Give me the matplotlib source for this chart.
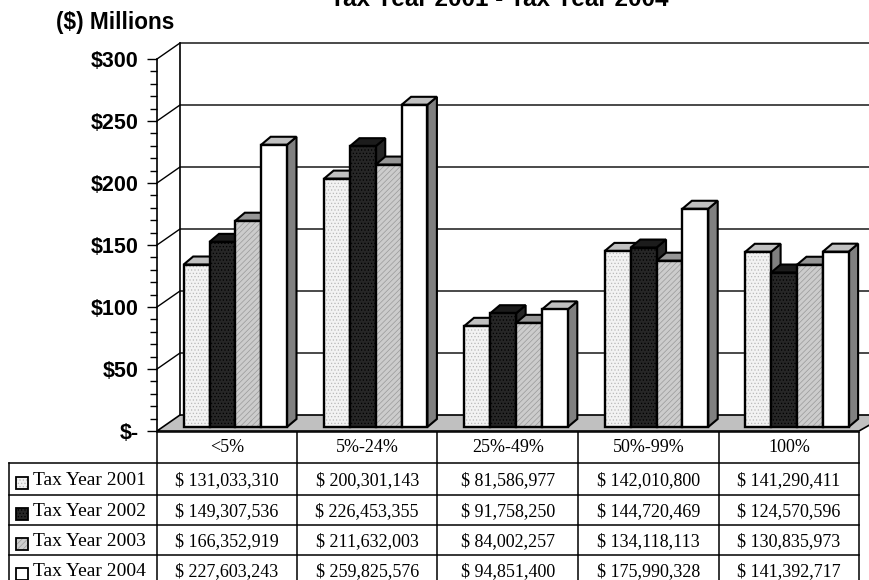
import matplotlib
matplotlib.use('Agg')
import matplotlib.pyplot as plt
from matplotlib.patches import Polygon, Rectangle
from matplotlib.ticker import MultipleLocator, FuncFormatter

plt.rcParams['hatch.linewidth'] = 0.5

categories = ['<5%', '5%-24%', '25%-49%', '50%-99%', '100%']
series_names = ['Tax Year 2001', 'Tax Year 2002', 'Tax Year 2003', 'Tax Year 2004']

tax_2001 = [131033310, 200301143, 81586977, 142010800, 141290411]
tax_2002 = [149307536, 226453355, 91758250, 144720469, 124570596]
tax_2003 = [166352919, 211632003, 84002257, 134118113, 130835973]
tax_2004 = [227603243, 259825576, 94851400, 175990328, 141392717]
all_series = [tax_2001, tax_2002, tax_2003, tax_2004]

# face, hatch, hatch colour, top face, side face
bar_styles = [
    ('#f2f2f2', '.....', '#b8b8b8', '#c0c0c0', '#808080'),
    ('#262626', '.....', '#000000', '#1c1c1c', '#262626'),
    ('#cccccc', '//////', '#999999', '#969696', '#808080'),
    ('#ffffff', None, None, '#c0c0c0', '#808080'),
]

W, H = 870, 580
LEFT, RIGHT = 157, 859
BASE, TOP = 431, 59

fig = plt.figure(figsize=(W / 100, H / 100), dpi=100)
ax = fig.add_axes([LEFT / W, 1 - BASE / H, (RIGHT - LEFT) / W, (BASE - TOP) / H])
ax.set_xlim(0, 5)
ax.set_ylim(0, 300)
ax.patch.set_alpha(0)

# one pixel in data units
px = 5 / (RIGHT - LEFT)
py = 300 / (BASE - TOP)

# 3d box: back wall, side wall and floor
wall_dx, wall_dy = 23 * px, 16 * py
edge = dict(edgecolor='black', linewidth=1.2, clip_on=False)
xmax = 5.2
ax.add_patch(Polygon([(0, 0), (wall_dx, wall_dy), (xmax, wall_dy), (5, 0)],
                     facecolor='#c0c0c0', zorder=1, **edge))
ax.plot([wall_dx, wall_dx], [wall_dy, 300 + wall_dy], color='black', lw=1.2, clip_on=False, zorder=1)
ax.plot([0, 0], [0, 300], color='black', lw=1.2, clip_on=False, zorder=1)
for tick in range(50, 301, 50):
    ax.plot([0, wall_dx, xmax], [tick, tick + wall_dy, tick + wall_dy],
            color='black', lw=1, clip_on=False, zorder=0.5)

# bars, left to right so each one covers the side of the previous one
bar_w = 0.184
start = 0.19
depth_x, depth_y = 9.5 * px, 8 * py
lift = 4 * py
for c in range(len(categories)):
    for s, values in enumerate(all_series):
        v = values[c] / 1e6
        x0 = c + start + s * bar_w
        x1 = x0 + bar_w
        face, hatch, hatch_col, top_col, side_col = bar_styles[s]
        z = 2 + c + s * 0.1
        ax.add_patch(Polygon([(x1, lift), (x1 + depth_x, lift + depth_y),
                              (x1 + depth_x, v + lift + depth_y), (x1, v + lift)],
                             facecolor=side_col, edgecolor='black', lw=1.5, zorder=z, clip_on=False))
        ax.add_patch(Polygon([(x0, v + lift), (x0 + depth_x, v + lift + depth_y),
                              (x1 + depth_x, v + lift + depth_y), (x1, v + lift)],
                             facecolor=top_col, edgecolor='black', lw=1.5, zorder=z, clip_on=False))
        ax.bar(x0, v, bar_w, bottom=lift, align='edge', color=face, hatch=hatch,
               edgecolor=hatch_col if hatch else 'black', linewidth=0, zorder=z, clip_on=False)
        ax.bar(x0, v, bar_w, bottom=lift, align='edge', fill=False,
               edgecolor='black', linewidth=1.7, zorder=z, clip_on=False)

for side in ['top', 'right', 'bottom', 'left']:
    ax.spines[side].set_visible(False)
ax.set_xticks([])
ax.yaxis.set_major_locator(MultipleLocator(50))
ax.yaxis.set_minor_locator(MultipleLocator(10))
ax.yaxis.set_major_formatter(FuncFormatter(lambda v, pos: '$-' if v == 0 else f'${v:.0f}'))
ax.tick_params(axis='y', which='major', length=7, width=1, pad=6)
ax.tick_params(axis='y', which='minor', length=5, width=1)
for lab in ax.get_yticklabels():
    lab.set_family('Liberation Sans')
    lab.set_fontweight('bold')
    lab.set_fontsize(15.5)

# table and labels drawn in pixel space on a full figure overlay
pg = fig.add_axes([0, 0, 1, 1])
pg.set_xlim(0, W)
pg.set_ylim(H, 0)
pg.axis('off')
pg.patch.set_alpha(0)

cols = [157, 297, 437.5, 578.5, 719, 859]
rows = [431.5, 463, 495, 525, 555, 585]
TABLE_LEFT = 9
for x in cols:
    pg.plot([x, x], [431.5, 580], color='black', lw=1.1, solid_capstyle='butt')
pg.plot([TABLE_LEFT, TABLE_LEFT], [463, 580], color='black', lw=1.1)
pg.plot([157, 859], [431.5, 431.5], color='black', lw=1.1)
for y in rows[1:-1]:
    pg.plot([TABLE_LEFT, 859], [y, y], color='black', lw=1.1)

serif = dict(family='Liberation Serif', color='black', va='center')
for i, cat in enumerate(categories):
    pg.text((cols[i] + cols[i + 1]) / 2, 447, cat, ha='center', fontsize=13, **serif)
for s, values in enumerate(all_series):
    yc = (rows[s + 1] + rows[s + 2]) / 2 + 1.2
    face, hatch, hatch_col = bar_styles[s][:3]
    pg.add_patch(Rectangle((16, yc - 3), 12, 11.5, facecolor=face, hatch=hatch,
                           edgecolor=hatch_col if hatch else 'black', linewidth=0))
    pg.add_patch(Rectangle((16, yc - 3), 12, 11.5, fill=False, edgecolor='black', linewidth=1.3))
    pg.text(33, yc, series_names[s], ha='left', fontsize=14, **serif)
    for c, v in enumerate(values):
        pg.text((cols[c] + cols[c + 1]) / 2, yc, f'$ {v:,}', ha='center', fontsize=13, **serif)

bold = dict(family='Liberation Sans', fontweight='bold', color='black')
pg.text(56, 22, '($) Millions', fontsize=16.3, va='center', ha='left', **bold)
pg.text(499, 0, 'Tax Year 2001 - Tax Year 2004', fontsize=17.5, va='center', ha='center', **bold)

fig.savefig('out.png', dpi=100)
